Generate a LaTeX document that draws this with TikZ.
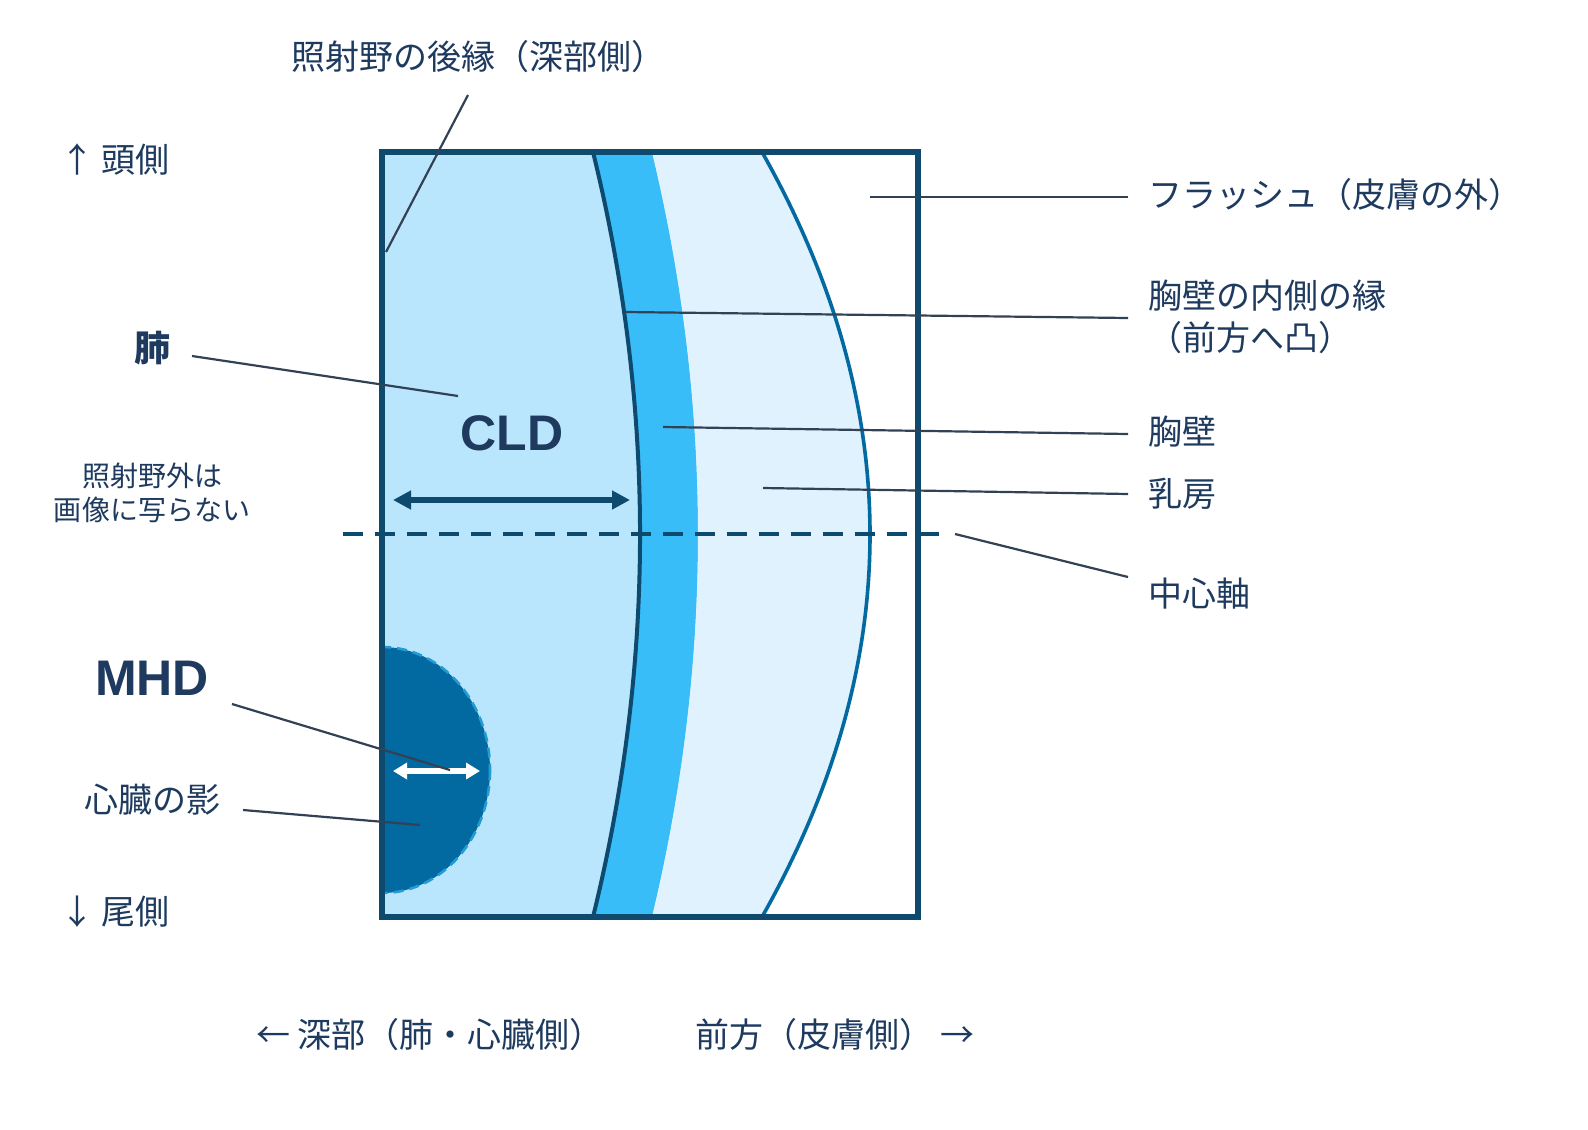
\documentclass[tikz,border=0pt]{standalone}
\usepackage{fontspec}
\setmainfont{Noto Sans CJK JP}
\newfontfamily\latinbold{Liberation Sans}
\usetikzlibrary{arrows.meta}
\definecolor{navy}{HTML}{0E4A6E}
\definecolor{txt}{HTML}{1E3A5F}
\definecolor{lead}{HTML}{334155}
\definecolor{lung}{HTML}{BAE6FD}
\definecolor{wall}{HTML}{38BDF8}
\definecolor{breast}{HTML}{E0F2FE}
\definecolor{heart}{HTML}{0369A1}
\tikzset{
 lbl/.style={text=txt,font=\fontsize{17}{21}\selectfont,inner sep=0pt},
 lblL/.style={lbl,anchor=west},
 big/.style={text=txt,font=\latinbold\fontsize{25}{28}\selectfont\bfseries,inner sep=0pt},
 leader/.style={draw=lead,line width=1.1pt}
}
\begin{document}
\begin{tikzpicture}[x=0.5pt,y=-0.5pt]
\useasboundingbox (0,0) rectangle (1588,1129);
\fill[lung] (382,152) rectangle (918,917);
\fill[wall] (593,152) .. controls (655.7,407) and (655.7,662) .. (593,917) -- (652,917) .. controls (713.3,662) and (713.3,407) .. (652,152) -- cycle;
\fill[breast] (652,152) .. controls (713.3,407) and (713.3,662) .. (652,917) -- (762,917) .. controls (906,662) and (906,407) .. (762,152) -- cycle;
\fill[white] (762,152) .. controls (906,407) and (906,662) .. (762,917) -- (918,917) -- (918,152) -- cycle;
\draw[heart,line width=1.8pt] (762,152) .. controls (906,407) and (906,662) .. (762,917);
\draw[navy,line width=2pt] (593,152) .. controls (655.7,407) and (655.7,662) .. (593,917);
\begin{scope}
\clip (382,152) rectangle (918,917);
\fill[heart] (382,770) ellipse [x radius=108, y radius=123];
\draw[wall!60!heart,line width=1.3pt,dash pattern=on 5pt off 3pt] (382,770) ellipse [x radius=108, y radius=123];
\end{scope}
\draw[navy,line width=3pt] (382,152) rectangle (918,917);
\coordinate (axL) at (343,534); \coordinate (axR) at (945,534);
\draw[navy,line width=1.6pt,dash pattern=on 10pt off 6pt] (axL) -- (axR);
\coordinate (c1) at (393,500); \coordinate (c2) at (630,500);
\draw[navy,line width=2.8pt,{Triangle[length=9pt,width=9pt]}-{Triangle[length=9pt,width=9pt]}] (c1) -- (c2);
\coordinate (m1) at (393,771); \coordinate (m2) at (480,771);
\draw[white,line width=2.8pt,{Triangle[length=7pt,width=8pt]}-{Triangle[length=7pt,width=8pt]}] (m1) -- (m2);
\node[lbl] (t1) at (478,57) {照射野の後縁（深部側）};
\node[lbl] (head) at (115,160) {↑\ 頭側};
\node[lbl] (tail) at (115,912) {↓\ 尾側};
\node[text=txt,font=\fontsize{18}{20}\selectfont\bfseries,inner sep=0pt] (lungt) at (152,348) {肺};
\node[big] (cld) at (512,433) {CLD};
\node[big] (mhd) at (152,678) {MHD};
\node[lbl,align=center,font=\fontsize{14}{17}\selectfont] (out) at (152,493) {照射野外は\\画像に写らない};
\node[lbl] (hs) at (152,800) {心臓の影};
\node[lblL] (fl) at (1148,195) {フラッシュ（皮膚の外）};
\node[lblL,align=left] (iw) at (1148,317) {胸壁の内側の縁\\（前方へ凸）};
\node[lblL] (cw) at (1148,432) {胸壁};
\node[lblL] (br) at (1148,494) {乳房};
\node[lblL] (ax) at (1148,594) {中心軸};
\node[lbl] (deep) at (430,1035) {←\ 深部（肺・心臓側）};
\node[lbl] (ant) at (835,1035) {前方（皮膚側）\ →};
\coordinate (a1) at (468,95); \coordinate (a2) at (386,252);
\draw[leader] (a1) -- (a2);
\coordinate (b1) at (192,356); \coordinate (b2) at (458,396);
\draw[leader] (b1) -- (b2);
\coordinate (f1) at (870,197); \coordinate (f2) at (1128,197);
\draw[leader] (f1) -- (f2);
\coordinate (i1) at (625,312); \coordinate (i2) at (1128,318);
\draw[leader] (i1) -- (i2);
\coordinate (w1) at (663,427); \coordinate (w2) at (1128,434);
\draw[leader] (w1) -- (w2);
\coordinate (r1) at (763,488); \coordinate (r2) at (1128,494);
\draw[leader] (r1) -- (r2);
\coordinate (x1) at (955,534); \coordinate (x2) at (1128,577);
\draw[leader] (x1) -- (x2);
\coordinate (h1) at (232,704); \coordinate (h2) at (450,770);
\draw[leader] (h1) -- (h2);
\coordinate (s1) at (243,810); \coordinate (s2) at (420,825);
\draw[leader] (s1) -- (s2);
\end{tikzpicture}
\end{document}
